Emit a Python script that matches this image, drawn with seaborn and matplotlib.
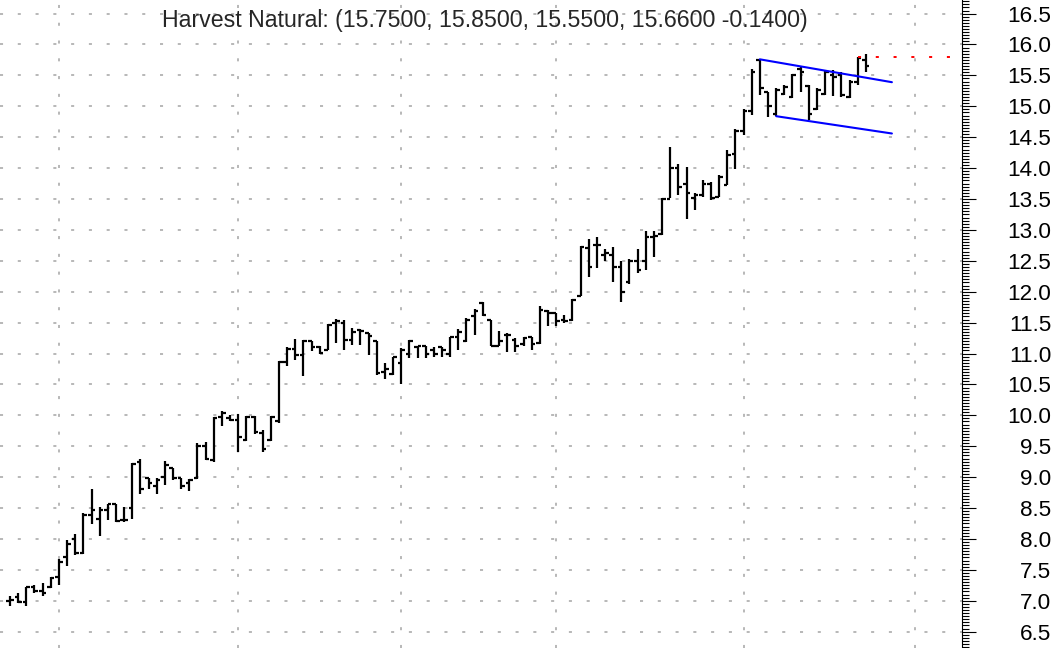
import matplotlib
matplotlib.use('Agg')
from matplotlib import pyplot as plt
from matplotlib.ticker import MultipleLocator
import numpy as np
import pandas as pd
import seaborn as sns

# daily OHLC (oldest first)
opens = [7.00, 7.06, 6.98, 7.22, 7.16, 7.22, 7.38, 7.70, 8.00, 7.77,
         8.38, 8.32, 8.47, 8.57, 8.30, 8.50, 9.25, 8.98, 8.85, 9.00,
         9.15, 8.98, 8.90, 8.99, 9.50, 9.28, 9.98, 9.96, 9.93, 9.60,
         9.98, 9.72, 9.60, 9.90, 10.87, 11.08, 10.98, 11.20, 11.10, 11.06,
         11.50, 11.50, 11.22, 11.38, 11.33, 11.20, 10.70, 10.67, 10.85, 11.00,
         11.10, 11.12, 11.05, 11.10, 11.00, 11.27, 11.20, 11.60, 11.82, 11.55,
         11.12, 11.30, 11.22, 11.15, 11.26, 11.17, 11.68, 11.65, 11.55, 11.54,
         11.93, 12.70, 12.75, 12.60, 12.60, 12.40, 12.15, 12.50, 12.50, 12.88,
         12.93, 13.50, 14.00, 13.75, 13.52, 13.56, 13.75, 13.53, 13.73, 14.23,
         14.60, 14.93, 15.75, 15.23, 14.87, 15.20, 15.15, 15.60, 15.33, 14.95,
         15.20, 15.50, 15.50, 15.15, 15.40, 15.75]
highs = [7.08, 7.12, 7.23, 7.25, 7.28, 7.38, 7.68, 7.98, 8.08, 8.42,
         8.80, 8.52, 8.57, 8.57, 8.52, 9.23, 9.30, 8.99, 8.99, 9.26,
         9.15, 8.99, 8.97, 9.55, 9.57, 9.98, 10.07, 10.00, 10.02, 9.99,
         9.99, 9.76, 9.99, 10.88, 11.10, 11.24, 11.22, 11.20, 11.12, 11.47,
         11.56, 11.55, 11.41, 11.39, 11.33, 11.20, 10.85, 10.95, 11.09, 11.22,
         11.12, 11.12, 11.10, 11.10, 11.27, 11.39, 11.57, 11.72, 11.84, 11.55,
         11.36, 11.33, 11.25, 11.27, 11.27, 11.77, 11.70, 11.66, 11.62, 11.88,
         12.74, 12.85, 12.88, 12.69, 12.72, 12.50, 12.53, 12.69, 12.99, 12.99,
         13.51, 14.34, 14.07, 14.02, 13.59, 13.80, 13.78, 13.89, 14.29, 14.64,
         14.96, 15.61, 15.76, 15.23, 15.29, 15.34, 15.53, 15.64, 15.34, 15.29,
         15.57, 15.58, 15.56, 15.42, 15.80, 15.85]
lows = [6.92, 6.96, 6.91, 7.12, 7.08, 7.20, 7.26, 7.56, 7.74, 7.76,
        8.24, 8.04, 8.30, 8.28, 8.28, 8.33, 8.72, 8.80, 8.72, 8.88,
        8.96, 8.80, 8.77, 8.97, 9.28, 9.25, 9.82, 9.90, 9.40, 9.58,
        9.70, 9.40, 9.58, 9.88, 10.80, 10.90, 10.63, 11.04, 10.99, 11.06,
        11.17, 11.06, 11.14, 11.14, 10.98, 10.66, 10.58, 10.66, 10.50, 10.93,
        10.93, 10.93, 10.95, 10.94, 10.94, 11.05, 11.18, 11.30, 11.60, 11.12,
        11.12, 11.02, 11.02, 11.12, 11.05, 11.15, 11.44, 11.45, 11.50, 11.53,
        11.93, 12.23, 12.39, 12.50, 12.15, 11.83, 12.13, 12.31, 12.35, 12.56,
        12.91, 13.51, 13.56, 13.18, 13.32, 13.53, 13.48, 13.53, 13.72, 13.99,
        14.53, 14.86, 15.18, 14.83, 14.85, 15.18, 15.13, 15.23, 14.78, 14.94,
        15.18, 15.17, 15.15, 15.13, 15.34, 15.55]
closes = [7.01, 6.98, 7.22, 7.16, 7.12, 7.36, 7.62, 7.92, 7.77, 8.38,
          8.46, 8.46, 8.56, 8.29, 8.30, 9.22, 8.80, 8.90, 8.95, 9.20,
          8.99, 8.86, 8.95, 9.50, 9.30, 9.95, 10.03, 9.93, 9.65, 9.97,
          9.73, 9.46, 9.97, 10.87, 11.08, 10.97, 11.20, 11.10, 11.01, 11.46,
          11.52, 11.22, 11.35, 11.36, 11.28, 10.68, 10.75, 10.94, 11.06, 11.21,
          11.12, 11.00, 11.00, 11.05, 11.27, 11.35, 11.55, 11.68, 11.62, 11.12,
          11.20, 11.30, 11.12, 11.25, 11.15, 11.70, 11.65, 11.53, 11.52, 11.86,
          12.72, 12.40, 12.75, 12.62, 12.40, 12.00, 12.50, 12.35, 12.88, 12.90,
          13.50, 14.00, 13.70, 13.60, 13.56, 13.75, 13.52, 13.85, 14.22, 14.60,
          14.93, 15.56, 15.30, 15.00, 15.27, 15.32, 15.50, 15.55, 14.88, 15.26,
          15.55, 15.48, 15.18, 15.40, 15.78, 15.66]

# first trading day of each month (bar index)
month_starts = [6, 28, 48, 67, 90, 111]
price_ticks = [6.5, 7.0, 7.5, 8.0, 8.5, 9.0, 9.5, 10.0, 10.5, 11.0, 11.5,
               12.0, 12.5, 13.0, 13.5, 14.0, 14.5, 15.0, 15.5, 16.0, 16.5]

# flag channel drawn by hand on the chart
upper_day = [92, 108.2]
upper_price = [15.76, 15.39]
lower_day = [94, 108.2]
lower_price = [14.84, 14.56]
alert_day = [104.05, 116.8]
alert_price = [15.80, 15.80]

title = 'Harvest Natural: (15.7500, 15.8500, 15.5500, 15.6600 -0.1400)'

sns.set_style('white')
plt.rcParams['font.family'] = ['Liberation Sans', 'DejaVu Sans']
plt.rcParams['lines.scale_dashes'] = False

fig = plt.figure(figsize=(10.61, 6.48), dpi=100)
ax = fig.add_axes([0, 0, 962 / 1061, 1])

df = pd.DataFrame({'day': np.arange(len(opens)), 'open': opens,
                   'high': highs, 'low': lows, 'close': closes})

# dotted grid
grid_kw = dict(color='#b8b8b8', linewidth=1.4, linestyle=(0, (2.2, 10.6)), zorder=0)
for level in price_ticks:
    ax.axhline(level, **grid_kw)
for m in month_starts:
    ax.axvline(m, **grid_kw)

# OHLC bars
bar_lw = 1.6
ax.vlines(df['day'], df['low'], df['high'], color='black', linewidth=bar_lw)
ax.hlines(df['open'], df['day'] - 0.45, df['day'], color='black', linewidth=bar_lw)
ax.hlines(df['close'], df['day'], df['day'] + 0.45, color='black', linewidth=bar_lw)

# channel lines
channel = pd.DataFrame({'day': upper_day + lower_day,
                        'price': upper_price + lower_price,
                        'line': ['upper'] * 2 + ['lower'] * 2})
sns.lineplot(data=channel, x='day', y='price', units='line', estimator=None,
             color='#0000ff', linewidth=1.5, ax=ax)
alert = pd.DataFrame({'day': alert_day, 'price': alert_price})
sns.lineplot(data=alert, x='day', y='price', color='red', linewidth=1.4,
             linestyle=(0, (2.2, 10.6)), ax=ax)

ax.set_xlim(-1.23, 116.8)
ax.set_ylim(6.235, 16.72)
ax.set_xticks([])
ax.set_xlabel('')
ax.set_ylabel('')
for side in ['top', 'left', 'bottom']:
    ax.spines[side].set_visible(False)
ax.spines['right'].set_visible(True)
ax.spines['right'].set_color('black')
ax.spines['right'].set_linewidth(0.8)

ax.yaxis.tick_right()
ax.set_yticks(price_ticks)
ax.set_yticklabels(['%.1f' % p for p in price_ticks], ha='right')
ax.yaxis.set_minor_locator(MultipleLocator(0.05))
ax.tick_params(axis='y', which='major', length=10, width=0.8, direction='out',
               colors='black', labelsize=16.2, pad=54.5, right=True, left=False)
ax.tick_params(axis='y', which='minor', length=5, width=0.8, direction='out',
               colors='black', right=True, left=False)

fig.text(485 / 1061, 1 - 21 / 648, title, ha='center', va='center', fontsize=16.7)

fig.savefig('out.png', dpi=100)
